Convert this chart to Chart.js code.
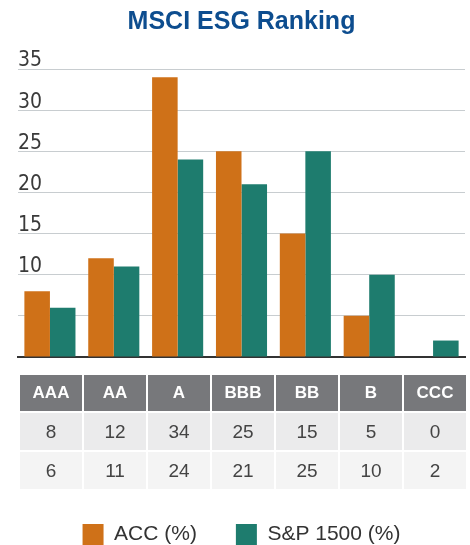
<!DOCTYPE html>
<html>
<head>
<meta charset="utf-8">
<script src="https://cdn.jsdelivr.net/npm/chart.js@4.4.1/dist/chart.umd.min.js"></script>
<style>
  html, body { margin: 0; padding: 0; background: #fff; overflow: hidden; }
  #wrap { position: relative; width: 470px; height: 545px; overflow: hidden; }
  #wrap canvas { position: absolute; left: 0; top: 0; }
  #ratings {
    position: absolute; left: 18px; top: 373px; width: 450px;
    border-collapse: separate; border-spacing: 2px; table-layout: fixed;
    font-family: "Liberation Sans", Arial, sans-serif;
  }
  #ratings th {
    background: #77787b; color: #fff; font-weight: bold; font-size: 17px;
    height: 36px; padding: 0; text-align: center;
  }
  #ratings td {
    color: #444; font-size: 19px; height: 37px; padding: 0; text-align: center;
  }
  #ratings tr.r1 td { background: #ebebec; }
  #ratings tr.r2 td { background: #f4f4f4; }
</style>
</head>
<body>
<div id="wrap">
  <canvas id="esgChart" width="470" height="555"></canvas>
  <table id="ratings"></table>
</div>
<script>
const ratings = ['AAA', 'AA', 'A', 'BBB', 'BB', 'B', 'CCC'];
const accValues = [8, 12, 34, 25, 15, 5, 0];
const spValues = [6, 11, 24, 21, 25, 10, 2];
const yTicks = [10, 15, 20, 25, 30, 35];

// table under the bars, built from the same arrays
const table = document.getElementById('ratings');
let html = '<tr>' + ratings.map(r => `<th>${r}</th>`).join('') + '</tr>';
html += '<tr class="r1">' + accValues.map(v => `<td>${v}</td>`).join('') + '</tr>';
html += '<tr class="r2">' + spValues.map(v => `<td>${v}</td>`).join('') + '</tr>';
table.innerHTML = html;

const ctx = document.getElementById('esgChart').getContext('2d');
new Chart(ctx, {
    type: 'bar',
    data: {
        labels: ratings,
        datasets: [
            { label: 'ACC (%)', data: accValues, backgroundColor: '#cf7118' },
            { label: 'S&P 1500 (%)', data: spValues, backgroundColor: '#1e7c6e' }
        ]
    },
    options: {
        responsive: false,
        animation: false,
        categoryPercentage: 0.8,
        barPercentage: 1.0,
        layout: { padding: { left: 18, right: 5, top: 0, bottom: 0 } },
        plugins: {
            title: {
                display: true,
                text: 'MSCI ESG Ranking',
                color: '#0d4d8f',
                font: { family: '"Liberation Sans", Arial, sans-serif', size: 25, weight: 'bold' },
                padding: { top: 7, bottom: 32 }
            },
            legend: {
                position: 'bottom',
                labels: {
                    boxWidth: 21,
                    boxHeight: 21,
                    padding: 39,
                    color: '#333',
                    font: { family: '"Liberation Sans", Arial, sans-serif', size: 21 }
                }
            },
            tooltip: { enabled: false }
        },
        scales: {
            x: {
                grid: { display: false },
                ticks: { display: false },
                border: { color: '#333', width: 2 },
                afterFit: scale => { scale.height = 128; }
            },
            y: {
                min: 0,
                max: 35,
                ticks: {
                    stepSize: 5,
                    mirror: true,
                    padding: 0,
                    labelOffset: -8,
                    color: '#3a3a3a',
                    font: { family: '"Liberation Sans Narrow", "DejaVu Sans Condensed", sans-serif', size: 21 },
                    callback: v => yTicks.includes(v) ? String(v) : ''
                },
                grid: { color: '#c8cdd0', lineWidth: 1, drawTicks: false },
                border: { display: false }
            }
        }
    }
});
</script>
</body>
</html>
